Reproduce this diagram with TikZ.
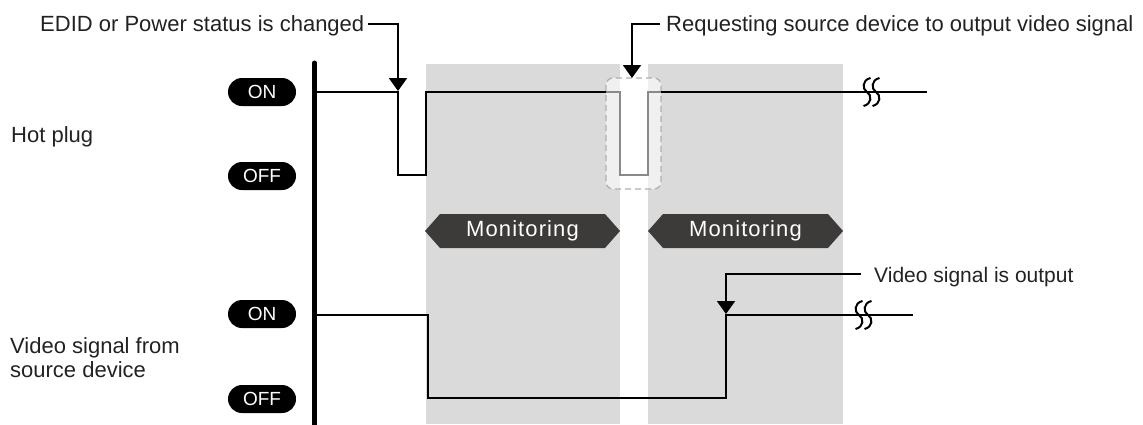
\documentclass[tikz,border=0pt]{standalone}
\usepackage{fontspec}
\setmainfont{Liberation Sans}
\usetikzlibrary{arrows.meta}
\definecolor{zone}{HTML}{D9DAD9}
\definecolor{mondark}{HTML}{3D3B3A}
\definecolor{txt}{HTML}{222222}
\definecolor{pulsegray}{HTML}{8A8A8A}
\definecolor{dashgray}{HTML}{B0B0B0}
\tikzset{
  pill/.style={fill=black, rounded corners=14pt, minimum width=68pt, minimum height=28pt,
    inner sep=0pt, text=white, font=\fontsize{19}{21}\selectfont},
  lbl/.style={anchor=base west, inner sep=0pt, text=txt, font=\fontsize{22}{24}\selectfont},
  sig/.style={line width=2pt, line join=miter},
  annot/.style={line width=2pt, -{Triangle[width=18pt,length=13pt]}},
  montext/.style={text=white, font=\fontsize{22}{24}\selectfont\addfontfeature{LetterSpace=5}, inner sep=0pt},
  brk/.style={line width=2pt},
}
\begin{document}
\begin{tikzpicture}[x=1pt,y=-1pt]
\useasboundingbox (0,0) rectangle (1143,424);
% monitoring zones
\fill[zone] (426,64) rectangle (620,424);
\fill[zone] (648,64) rectangle (843,424);
% dashed highlight box
\draw[draw=dashgray, line width=1.3pt, fill=white, fill opacity=0.6, rounded corners=7pt, dash pattern=on 6pt off 4pt] (606,78) rectangle (661,189);
% axis bar
\draw[line width=5pt, line cap=round] (314.5,63) -- (314.5,430);
% pills
\node[pill] (hpon) at (262,92) {ON};
\node[pill] (hpoff) at (262,176) {OFF};
\node[pill] (vson) at (262,314) {ON};
\node[pill] (vsoff) at (262,399) {OFF};
% labels
\node[lbl] (hplbl) at (11,142) {Hot plug};
\node[lbl] (vslbl1) at (10,353) {Video signal from};
\node[lbl] (vslbl2) at (10,377) {source device};
% hot plug waveform
\coordinate (hpstart) at (317,92);
\coordinate (hpend) at (927,92);
\draw[sig] (hpstart) -- (398,92) -- (398,175) -- (426,175) -- (426,92) -- (606,92);
\draw[sig, pulsegray] (606,92) -- (620,92) -- (620,175) -- (648,175) -- (648,92) -- (661,92);
\draw[sig] (661,92) -- (hpend);
% video waveform
\coordinate (vsstart) at (317,315);
\coordinate (vsend) at (913,315);
\draw[sig] (vsstart) -- (428,315) -- (428,398) -- (726,398) -- (726,315) -- (vsend);
% break marks
\foreach \bx/\by in {867/92, 876/92, 859/315, 868/315}{
  \draw[brk] (\bx+3.5,\by-14) .. controls (\bx-5,\by-12) and (\bx-5,\by-3) .. (\bx,\by)
             .. controls (\bx+5,\by+3) and (\bx+5,\by+12) .. (\bx-3.5,\by+14);
}
% monitoring labels
\fill[mondark] (425,231) -- (440,214) -- (605,214) -- (620,231) -- (605,248) -- (440,248) -- cycle;
\fill[mondark] (648,231) -- (663,214) -- (828,214) -- (843,231) -- (828,248) -- (663,248) -- cycle;
\node[montext] (mon1) at (522.5,231) {Monitoring};
\node[montext] (mon2) at (745.5,231) {Monitoring};
% annotations
\node[lbl] (edid) at (40,31) {EDID or Power status is changed};
\node[lbl] (req) at (666,31) {Requesting source device to output video signal};
\node[lbl, font=\fontsize{21}{24}\selectfont] (vout) at (874,282) {Video signal is output};
\coordinate (edidtip) at (398,91);
\coordinate (reqtip) at (632,78);
\coordinate (vouttip) at (726,314);
\draw[annot] ([xshift=4pt]edid.east |- 0,24) -- (398,24) -- (edidtip);
\draw[annot] ([xshift=-6pt]req.west |- 0,24) -- (632,24) -- (reqtip);
\draw[annot] ([xshift=-13pt]vout.west |- 0,274) -- (726,274) -- (vouttip);
\end{tikzpicture}
\end{document}
